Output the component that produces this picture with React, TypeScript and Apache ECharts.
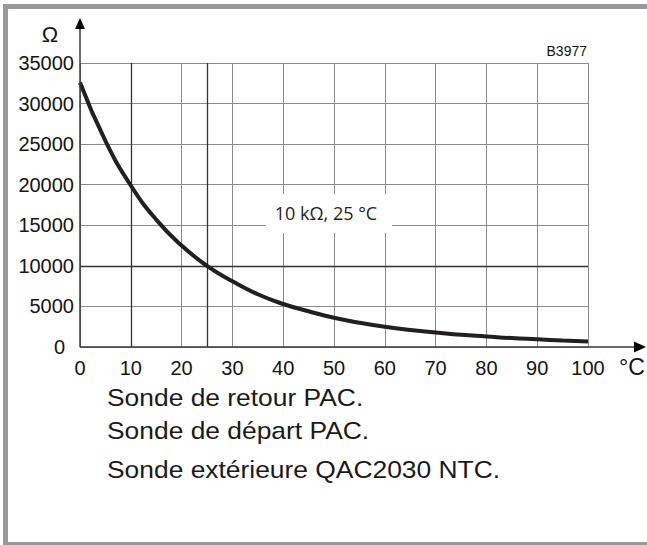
import React, { useEffect, useRef } from "react";
import * as echarts from "echarts";

const temperatures = [0, 5, 10, 15, 20, 25, 30, 35, 40, 45, 50, 55, 60, 65, 70, 75, 80, 85, 90, 95, 100];
const resistances = [32600, 25400, 19900, 15700, 12500, 10000, 8100, 6500, 5300, 4400, 3600, 3000, 2500, 2100, 1800, 1500, 1300, 1100, 950, 800, 680];
const darkXLines = [10, 25];
const darkYLines = [10000];
const noteLabel = "10 kΩ, 25 °C";
const codeLabel = "B3977";
const captions = ["Sonde de retour PAC.", "Sonde de départ PAC.", "Sonde extérieure QAC2030 NTC."];

const FONT = "'Liberation Sans', Arial, Helvetica, sans-serif";

export default function App() {
  const ref = useRef<HTMLDivElement>(null);
  useEffect(() => {
    if (!ref.current) return;
    const chart = echarts.init(ref.current, null, { renderer: "svg" });
    const gridL = 80, gridT = 63, gridW = 508, gridH = 284;
    const axisColor = "#3a3a3a";
    const captionY = [397, 430, 469];
    chart.setOption({
      animation: false,
      backgroundColor: "#ffffff",
      grid: { left: gridL, top: gridT, width: gridW, height: gridH },
      xAxis: {
        type: "value",
        min: 0,
        max: 100,
        interval: 10,
        axisLine: { show: false },
        axisTick: { show: false },
        splitLine: { show: true, lineStyle: { color: "#8c8c8c", width: 1 } },
        axisLabel: { fontSize: 20, fontFamily: FONT, color: "#141414", margin: 11 },
      },
      yAxis: {
        type: "value",
        min: 0,
        max: 35000,
        interval: 5000,
        axisLine: { show: false },
        axisTick: { show: false },
        splitLine: { show: true, lineStyle: { color: "#8c8c8c", width: 1 } },
        axisLabel: {
          fontSize: 20,
          fontFamily: FONT,
          color: "#141414",
          margin: 6,
          formatter: (v: number) => (v === 0 ? "{z|0}" : String(v)),
          rich: { z: { fontSize: 20, fontFamily: FONT, color: "#141414", padding: [0, 9, 0, 0] } },
        },
      },
      series: [
        {
          type: "line",
          data: temperatures.map((t, i) => [t, resistances[i]]),
          smooth: true,
          showSymbol: false,
          lineStyle: { color: "#231f20", width: 4 },
          z: 5,
          markLine: {
            silent: true,
            symbol: ["none", "none"],
            label: { show: false },
            lineStyle: { color: "#333333", type: "solid", width: 1.3 },
            data: [
              ...darkXLines.map((x) => ({ xAxis: x })),
              ...darkYLines.map((y) => ({ yAxis: y })),
            ],
          },
        },
      ],
      graphic: [
        { type: "rect", shape: { x: 3, y: 4, width: 5, height: 541 }, style: { fill: "#98989c" }, z: 10 },
        { type: "rect", shape: { x: 3, y: 4, width: 644, height: 5 }, style: { fill: "#98989c" }, z: 10 },
        { type: "rect", shape: { x: 3, y: 542, width: 644, height: 3 }, style: { fill: "#98989c" }, z: 10 },
        { type: "line", shape: { x1: gridL, y1: gridT + gridH, x2: gridL, y2: 27 }, style: { stroke: axisColor, lineWidth: 1.5 }, z: 10 },
        { type: "polygon", shape: { points: [[80, 18], [75, 29], [85, 29]] }, style: { fill: "#000" }, z: 10 },
        { type: "line", shape: { x1: gridL, y1: gridT + gridH, x2: 636, y2: gridT + gridH }, style: { stroke: axisColor, lineWidth: 1.5 }, z: 10 },
        { type: "polygon", shape: { points: [[646, 347], [634, 341.5], [634, 352.5]] }, style: { fill: "#000" }, z: 10 },
        { type: "text", x: 50, y: 34, style: { text: "Ω", fontSize: 22, fontFamily: FONT, fill: "#141414", textAlign: "center", textVerticalAlign: "middle" }, z: 10 },
        { type: "text", x: 632, y: 367, style: { text: "°C", fontSize: 23, fontFamily: FONT, fill: "#141414", textAlign: "center", textVerticalAlign: "middle" }, z: 10 },
        { type: "text", x: 587, y: 51, style: { text: codeLabel, fontSize: 14, fontFamily: FONT, fill: "#141414", textAlign: "right", textVerticalAlign: "middle" }, z: 10 },
        { type: "rect", shape: { x: 266, y: 194, width: 126, height: 39 }, style: { fill: "#ffffff" }, z: 10 },
        { type: "text", x: 326, y: 213, style: { text: noteLabel, fontSize: 18, fontFamily: "'Open Sans', sans-serif", fill: "#231f20", textAlign: "center", textVerticalAlign: "middle" }, z: 11 },
        ...captions.map((c, i) => ({
          type: "text",
          x: 107,
          y: captionY[i],
          scaleX: 1.1,
          style: { text: c, fontSize: 24, fontFamily: FONT, fill: "#1a1a1a", textAlign: "left", textVerticalAlign: "middle" },
          z: 10,
        })),
      ],
    });
    return () => chart.dispose();
  }, []);
  return <div ref={ref} style={{ position: "absolute", left: 0, top: 0, width: 647, height: 545 }} />;
}
